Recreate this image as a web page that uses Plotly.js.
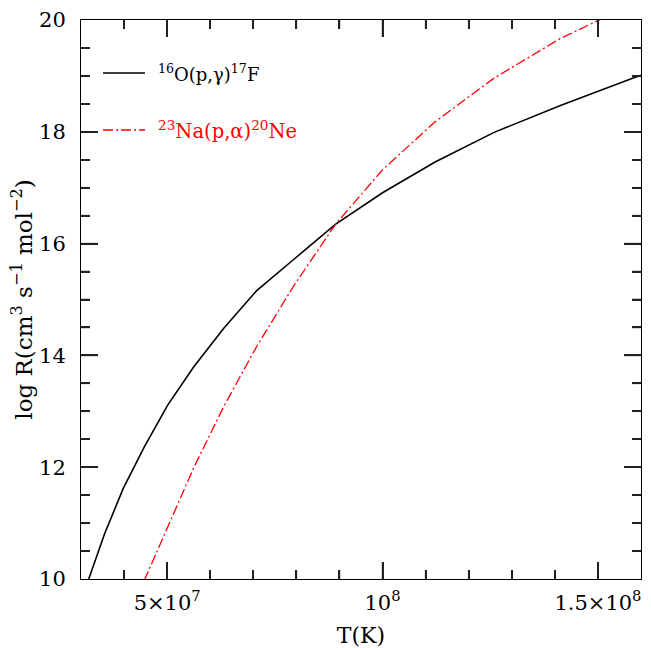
<!DOCTYPE html>
<html>
<head>
<meta charset="utf-8">
<script src="https://cdn.plot.ly/plotly-3.0.1.min.js"></script>
<style>html,body{margin:0;padding:0;background:#fff;}#chart{width:651px;height:648px;}</style>
</head>
<body>
<div id="chart"></div>
<script>
// Temperatures (K) and log rates
var T_O16 = [3.162e7, 3.548e7, 3.981e7, 4.467e7, 5.012e7, 5.623e7, 6.310e7, 7.079e7, 7.943e7, 8.913e7, 1.0e8, 1.122e8, 1.259e8, 1.413e8, 1.585e8, 1.6e8];
var logR_O16 = [9.96, 10.81, 11.62, 12.36, 13.11, 13.80, 14.48, 15.16, 15.72, 16.35, 16.91, 17.46, 17.99, 18.47, 18.97, 19.01];

var T_Na23 = [4.467e7, 5.012e7, 5.623e7, 6.310e7, 7.079e7, 7.943e7, 8.913e7, 1.0e8, 1.122e8, 1.259e8, 1.413e8, 1.585e8];
var logR_Na23 = [9.97, 10.94, 12.0, 13.08, 14.16, 15.25, 16.35, 17.32, 18.18, 18.96, 19.67, 20.3];

var seriesNames = ["<sup>16</sup>O(p,γ)<sup>17</sup>F", "<sup>23</sup>Na(p,α)<sup>20</sup>Ne"];
var xTickVals = [5e7, 1e8, 1.5e8];
var xTickText = ["5×10<sup>7</sup>", "10<sup>8</sup>", "1.5×10<sup>8</sup>"];
var yTickVals = [10, 12, 14, 16, 18, 20];
var xTitle = "T(K)";
var yTitle = "log R(cm<sup>3</sup> s<sup>−1</sup> mol<sup>−2</sup>)";

var X_RANGE = [3e7, 1.6e8], Y_RANGE = [10, 20];
var X_MINOR_STEP = 1e7, Y_MINOR_STEP = 0.5;

var W = 651, H = 648;
var M = {l: 81, r: 10, t: 20, b: 69};
var PW = W - M.l - M.r, PH = H - M.t - M.b;
function px(x) { return (x - M.l) / PW; }
function py(y) { return (H - M.b - y) / PH; }

var FONT = "DejaVu Serif, serif";
var RED = "#ff0000";
var REDDASH = "10px,3px,2px,3px";
var TICKCOL = "#222", TICKW = 1.5, MAJLEN = 17, MINLEN = 9;

// inside tick marks on all four sides, in axis units (pixel length -> data length)
var dxPerPx = (X_RANGE[1] - X_RANGE[0]) / PW, dyPerPx = (Y_RANGE[1] - Y_RANGE[0]) / PH;
var shapes = [];
function seg(x0, y0, x1, y1) {
  shapes.push({type: "line", xref: "x", yref: "y", x0: x0, y0: y0, x1: x1, y1: y1, layer: "above",
               line: {color: TICKCOL, width: TICKW}});
}
var i, v, len;
for (i = 1; (v = X_RANGE[0] + i * X_MINOR_STEP) < X_RANGE[1] - 1; i++) {
  len = xTickVals.some(function (t) { return Math.abs(t - v) < 1; }) ? MAJLEN : MINLEN;
  seg(v, Y_RANGE[0], v, Y_RANGE[0] + len * dyPerPx);
  seg(v, Y_RANGE[1], v, Y_RANGE[1] - len * dyPerPx);
}
for (i = 1; (v = Y_RANGE[0] + i * Y_MINOR_STEP) < Y_RANGE[1] - 1e-9; i++) {
  len = yTickVals.some(function (t) { return Math.abs(t - v) < 1e-9; }) ? MAJLEN : MINLEN;
  seg(X_RANGE[0], v, X_RANGE[0] + len * dxPerPx, v);
  seg(X_RANGE[1], v, X_RANGE[1] - len * dxPerPx, v);
}

// legend samples
shapes.push({type: "line", xref: "paper", yref: "paper", x0: px(103), x1: px(145), y0: py(73), y1: py(73),
             line: {color: "#000", width: 1.6}});
shapes.push({type: "line", xref: "paper", yref: "paper", x0: px(103), x1: px(145), y0: py(130), y1: py(130),
             line: {color: RED, width: 1.3, dash: REDDASH}});

var traces = [
  {x: T_O16, y: logR_O16, type: "scatter", mode: "lines", name: seriesNames[0],
   line: {color: "#000000", width: 1.6}, showlegend: false},
  {x: T_Na23, y: logR_Na23, type: "scatter", mode: "lines", name: seriesNames[1],
   line: {color: RED, width: 1.3, dash: REDDASH}, showlegend: false}
];

var layout = {
  width: W, height: H,
  margin: {l: M.l, r: M.r, t: M.t, b: M.b},
  paper_bgcolor: "#fff", plot_bgcolor: "#fff",
  showlegend: false,
  xaxis: {
    range: X_RANGE, tickmode: "array", tickvals: xTickVals, ticktext: xTickText,
    showgrid: true, gridcolor: "rgba(255,255,255,0)", zeroline: false,
    showline: true, linecolor: "#000", linewidth: 1,
    mirror: "allticks", ticks: "inside", ticklen: MAJLEN, tickwidth: TICKW, tickcolor: TICKCOL,
    minor: {dtick: X_MINOR_STEP, tick0: X_RANGE[0], ticks: "inside", ticklen: MINLEN, tickcolor: TICKCOL, showgrid: false},
    ticklabelstandoff: 5,
    tickfont: {family: FONT, size: 21, color: "#000"},
    title: {text: xTitle, font: {family: FONT, size: 22, color: "#000"}, standoff: 14}
  },
  yaxis: {
    range: Y_RANGE, tickmode: "array", tickvals: yTickVals,
    showgrid: true, gridcolor: "rgba(255,255,255,0)", zeroline: false,
    showline: true, linecolor: "#000", linewidth: 1,
    mirror: "allticks", ticks: "inside", ticklen: MAJLEN, tickwidth: TICKW, tickcolor: TICKCOL,
    minor: {dtick: Y_MINOR_STEP, tick0: Y_RANGE[0], ticks: "inside", ticklen: MINLEN, tickcolor: TICKCOL, showgrid: false},
    ticklabelstandoff: 10,
    tickfont: {family: FONT, size: 21, color: "#000"},
    title: {text: yTitle, font: {family: FONT, size: 23, color: "#000"}, standoff: 0}
  },
  shapes: shapes,
  annotations: [
    {xref: "paper", yref: "paper", x: px(156), y: py(73), xanchor: "left", yanchor: "middle",
     showarrow: false, text: seriesNames[0], font: {family: FONT, size: 18, color: "#000"}},
    {xref: "paper", yref: "paper", x: px(156), y: py(130), xanchor: "left", yanchor: "middle",
     showarrow: false, text: seriesNames[1], font: {family: FONT, size: 19.5, color: RED}}
  ]
};

Plotly.newPlot("chart", traces, layout, {displayModeBar: false});
</script>
</body>
</html>
